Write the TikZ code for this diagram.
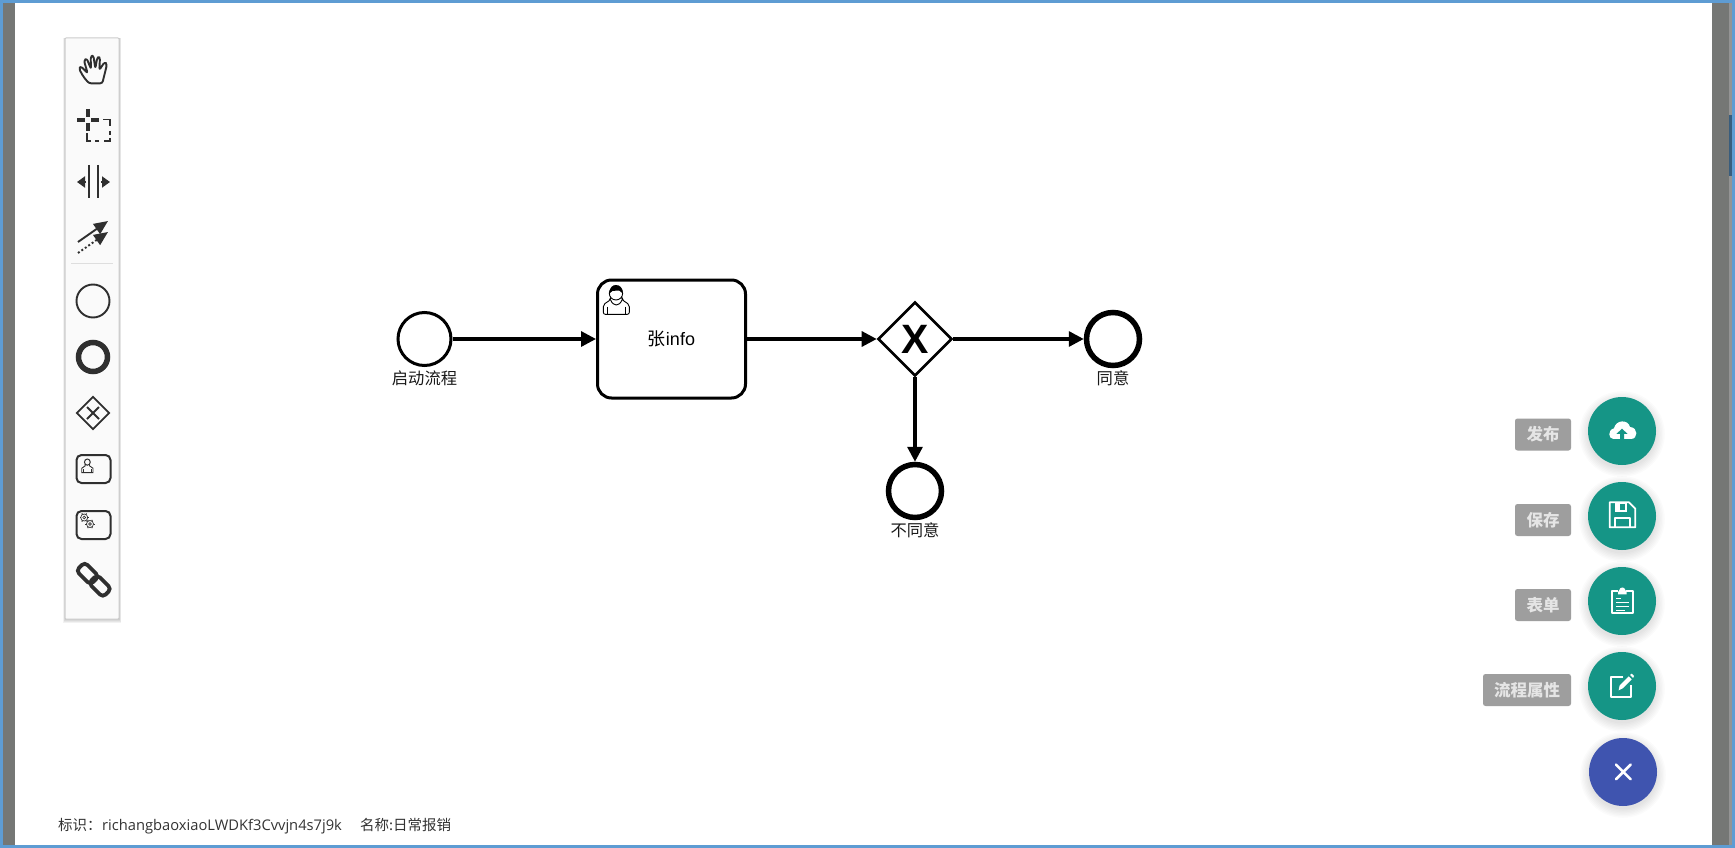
\documentclass[tikz,border=0pt]{standalone}
\usepackage{fontspec}
\setmainfont{Liberation Sans}
\newfontfamily\cjk{Noto Sans CJK SC}
\newfontfamily\opensans{Open Sans}
\usetikzlibrary{arrows.meta,shapes.geometric}
\definecolor{frameblue}{HTML}{5E9CD3}
\definecolor{strip}{HTML}{757775}
\definecolor{teal}{HTML}{159586}
\definecolor{fabblue}{HTML}{3F54AF}
\definecolor{tip}{HTML}{9E9E9E}
\definecolor{ink}{HTML}{2F2F2F}
\tikzset{
  startev/.style={circle,draw=black,line width=3pt,fill=white,minimum size=53pt,inner sep=0pt},
  endev/.style={circle,draw=black,line width=5.5pt,fill=white,minimum size=53pt,inner sep=0pt},
  gate/.style={diamond,draw=black,line width=2.6pt,fill=white,minimum width=74pt,minimum height=74pt,inner sep=0pt,aspect=1},
  taskbox/.style={rectangle,rounded corners=14pt,draw=black,line width=3pt,fill=white,minimum width=148pt,minimum height=118pt,inner sep=0pt},
  flow/.style={line width=3.2pt,draw=black,-{Triangle[length=15pt,width=15pt]}},
  evlabel/.style={inner sep=0pt,font=\fontsize{16.3}{16}\selectfont\cjk,text=black!90},
  fab/.style={circle,fill=teal,minimum size=68pt,inner sep=0pt},
  fabx/.style={circle,fill=fabblue,minimum size=68pt,inner sep=0pt},
  tipbox/.style={rectangle,rounded corners=2.5pt,fill=tip,minimum height=32pt,inner sep=0pt,text=white!90!black,font=\fontsize{16.5}{16}\selectfont\cjk\bfseries},
  toolline/.style={draw=ink,line width=1.9pt},
  fabicon/.style={draw=white,line width=1.8pt,line join=round},
  chainlink/.style={rectangle,draw=ink,line width=3.8pt,rounded corners=4pt,minimum width=20pt,minimum height=12pt,inner sep=0pt,rotate=-45},
}
\newcommand{\softshadow}[3]{% x, y, radius
  \foreach \k in {1,...,7}{
    \fill[black,opacity=0.014] (#1,#2+3) circle ({#3-1+\k*1.4});
  }
}
\begin{document}
\begin{tikzpicture}[x=1pt,y=-1pt]
\useasboundingbox (0,0) rectangle (1735,848);
% window
\fill[white] (0,0) rectangle (1735,848);
\fill[strip] (0,0) rectangle (15,848);
\fill[strip] (1712,0) rectangle (1735,848);
\fill[black!42] (1729,3) rectangle (1732,845);
\fill[black!30!frameblue!85!black] (1729,115) rectangle (1732,176);
\fill[frameblue] (0,0) rectangle (3,848);
\fill[frameblue] (1732,0) rectangle (1735,848);
\fill[frameblue] (0,0) rectangle (1735,3);
\fill[frameblue] (0,845) rectangle (1735,848);

% toolbar
\foreach \k in {1,...,4}{\fill[black,opacity=0.05] (65-\k*0.5,38) rectangle (119+\k*0.5,619+\k*0.9);}
\node[draw=black!20,line width=1pt,fill=black!2,rectangle,rounded corners=1pt,minimum width=54pt,minimum height=581pt,inner sep=0pt] (toolbar) at (92,328.5) {};
\draw[black!13,line width=1pt] (71,263) -- (113,263);

% hand
\begin{scope}[shift={(50,25)},x=0.3333pt,y=-0.3333pt]
\draw[toolline,line join=round,rounded corners=2.2pt]
 (117,175) -- (100,155) -- (87,131) -- (93,124) -- (113,145) -- (102,107) -- (110,100) -- (123,132) -- (122,95) -- (130,91) -- (136,130) -- (142,97) -- (150,97) -- (148,135) -- (164,111) -- (171,118) -- (157,175) -- cycle;
\end{scope}
% lasso
\draw[ink,line width=4pt] (77,120) -- (85,120) (91,120) -- (99,120) (88,109) -- (88,117) (88,123) -- (88,131);
\draw[ink,line width=1.8pt] (103,119.5) -- (110,119.5) -- (110,126) (110,131) -- (110,135) (110,138) -- (110,141) -- (104,141) (99,141) -- (95,141) (91,141) -- (87,141) -- (87,133);
% space tool
\draw[ink,line width=1.9pt] (89,165) -- (89,198) (98,165) -- (98,198);
\draw[ink,line width=1.9pt,-{Triangle[length=8pt,width=11pt]}] (86,182) -- (77,182);
\draw[ink,line width=1.9pt,-{Triangle[length=8pt,width=11pt]}] (101,182) -- (110,182);
% connect tool
\draw[ink,line width=1.9pt,-{Triangle[length=14pt,width=12pt]}] (78,242) -- (108,221);
\draw[ink,line width=1.9pt,dash pattern=on 2pt off 2.2pt,-{Triangle[length=14pt,width=12pt]}] (78,253) -- (108,232);
% start / end palette
\node[circle,draw=ink,line width=1.9pt,minimum size=33pt,inner sep=0pt] (palstart) at (93,301) {};
\node[circle,draw=ink,line width=5.5pt,minimum size=29pt,inner sep=0pt] (palend) at (93,357) {};
% gateway palette
\node[diamond,aspect=1,draw=ink,line width=1.9pt,minimum width=33pt,minimum height=33pt,inner sep=0pt] (palgate) at (93,413) {};
\draw[ink,line width=1.9pt] (87,407) -- (99,419) (99,407) -- (87,419);
% user task palette
\node[rectangle,rounded corners=5pt,draw=ink,line width=2pt,minimum width=34pt,minimum height=28pt,inner sep=0pt] (paluser) at (93.5,469) {};
\begin{scope}[shift={(81.7,459)},x=0.145pt,y=-0.155pt]
\draw[ink,line width=0.9pt] (0,88) -- (0,60) -- (24,44) -- (24,34) -- (54,34) -- (54,44) -- (78,60) -- (78,88) -- cycle;
\draw[ink,line width=0.8pt] (14,66) -- (14,88) (64,66) -- (64,88);
\draw[ink,line width=1pt,fill=black!2] (39,20) ellipse (20 and 20);
\end{scope}
% service task palette
\node[rectangle,rounded corners=5pt,draw=ink,line width=2pt,minimum width=34pt,minimum height=28pt,inner sep=0pt] (palserv) at (93.5,525) {};
\foreach \cx/\cy in {84.2/517.5, 90/524}{
  \fill[black!2] (\cx,\cy) circle (4.2);
  \draw[ink,line width=0.7pt] (\cx,\cy) circle (3.5);
  \draw[ink,line width=0.6pt] (\cx,\cy) circle (1.4);
  \foreach \a in {0,60,...,300}{\draw[ink,line width=1pt] (\cx,\cy) ++(\a:3.5) -- ++(\a:1.2);}
}
% link palette
\node[chainlink] (linka) at (87.5,573.5) {};
\node[chainlink] (linkb) at (100,586) {};

% diagram
\node[startev] (start) at (424.5,339) {};
\node[evlabel] (startl) at (424.5,378) {启动流程};
\node[taskbox] (task) at (671.5,339) {{\fontsize{18}{18}\selectfont\cjk 张}{\fontsize{18}{18}\selectfont info}};
\node[gate] (gw) at (915,339) {};
\node[inner sep=0pt,font=\fontsize{41}{41}\selectfont\bfseries] (gwx) at (915,339) {X};
\node[endev] (okev) at (1113,339) {};
\node[evlabel] (okl) at (1113,378) {同意};
\node[endev] (noev) at (915,491) {};
\node[evlabel] (nol) at (915,530) {不同意};
\draw[flow] (start) -- (task);
\draw[flow] (task) -- (gw);
\draw[flow] (gw) -- (okev);
\draw[flow] (gw) -- (noev);
% user icon in task
\begin{scope}[shift={(380,260)},x=0.3333pt,y=-0.3333pt]
\draw[black,line width=0.9pt,fill=white,rounded corners=2pt] (670,163) -- (670,134) -- (692,119) -- (692,110) -- (726,110) -- (726,119) -- (748,134) -- (748,163) -- cycle;
\draw[black,line width=0.9pt] (683,140) -- (683,163) (735,140) -- (735,163);
\draw[black,line width=0.9pt] (692,120) .. controls (700,140) and (718,140) .. (726,120);
\draw[black,line width=0.9pt,fill=white] (708,100) ellipse (20 and 20);
\fill[black] (689,100) .. controls (688,82) and (698,75) .. (708,75) .. controls (720,75) and (729,84) .. (728,100) .. controls (722,92) and (715,90) .. (708,92) .. controls (700,92) and (694,92) .. (689,100) -- cycle;
\end{scope}

% FABs
\foreach \y in {431,516,601,686}{\softshadow{1622}{\y}{34}}
\softshadow{1623}{772}{34}
\node[fab] (pub) at (1622,431) {};
\node[fab] (sav) at (1622,516) {};
\node[fab] (frm) at (1622,601) {};
\node[fab] (prp) at (1622,686) {};
\node[fabx] (cls) at (1623,772) {};
\node[tipbox,minimum width=56pt] (pubt) at (1543,434.5) {发布};
\node[tipbox,minimum width=56pt] (savt) at (1543,520) {保存};
\node[tipbox,minimum width=56pt] (frmt) at (1543,605) {表单};
\node[tipbox,minimum width=88pt] (prpt) at (1527,690) {流程属性};
% cloud
\begin{scope}[shift={(1460,380)},x=0.3333pt,y=-0.3333pt]
\fill[white] (460,177) .. controls (445,177) and (442,150) .. (462,145) .. controls (468,118) and (505,118) .. (510,141) .. controls (535,142) and (535,177) .. (513,177) -- cycle;
\fill[teal] (486,146) -- (503,162) -- (492,162) -- (492,178) -- (480,178) -- (480,162) -- (469,162) -- cycle;
% floppy
\draw[fabicon] (449,367) -- (507,367) -- (526,386) -- (526,442) -- (449,442) -- cycle;
\draw[fabicon] (465,442) -- (465,415) -- (510,415) -- (510,442);
\fill[white] (465,367) rectangle (500,395);
\fill[teal] (480,371) rectangle (494,389);
% clipboard
\draw[fabicon] (475,632) -- (457,632) -- (457,700) -- (518,700) -- (518,632) -- (499,632);
\fill[white] (474,637) -- (478,630) .. controls (480,620) and (494,620) .. (496,630) -- (500,637) -- (500,643) -- (474,643) -- cycle;
\draw[white,line width=1.5pt] (469,655) -- (484,655) (469,668) -- (506,668) (469,680) -- (506,680) (469,692) -- (494,692);
\end{scope}
\begin{scope}[shift={(1460,620)},x=0.3333pt,y=-0.3333pt]
% edit
\draw[fabicon] (490,172) -- (454,172) -- (454,230) -- (514,230) -- (514,194);
\fill[white] (476,211) -- (479,196) -- (506,169) -- (515,178) -- (488,205) -- cycle;
\fill[white] (510,165) -- (515,161) -- (522,168) -- (519,174) -- cycle;
% close
\draw[white,line width=2.6pt,line cap=round] (468,434) -- (512,478) (512,434) -- (468,478);
\end{scope}

% footer
\node[anchor=base west,inner sep=0pt,font=\fontsize{14.5}{14}\selectfont\cjk,text=black!80] (foot1) at (58,830) {标识：};
\node[anchor=base west,inner sep=0pt,font=\fontsize{14.7}{14}\selectfont\opensans,text=black!80] (foot2) at (102,830) {richangbaoxiaoLWDKf3Cvvjn4s7j9k};
\node[anchor=base west,inner sep=0pt,font=\fontsize{14.5}{14}\selectfont\cjk,text=black!80] (foot3) at (360,830) {名称:日常报销};
\end{tikzpicture}
\end{document}
